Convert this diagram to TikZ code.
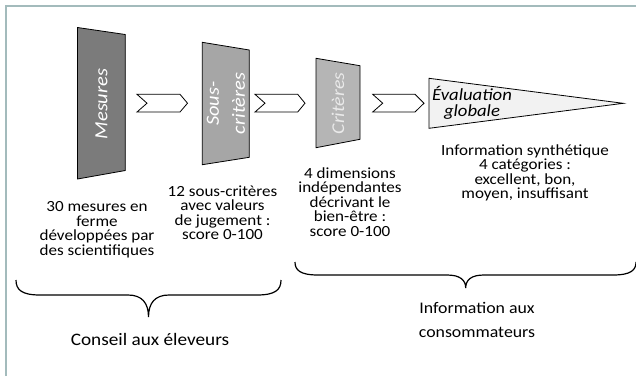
\documentclass[tikz,border=0pt]{standalone}
\usepackage{fontspec}
\setmainfont{Carlito}[FakeStretch=1.1]
\definecolor{framec}{HTML}{A3BBBC}
\definecolor{mesc}{HTML}{7B7B7B}
\definecolor{sousc}{HTML}{A6A6A6}
\definecolor{critc}{HTML}{B5B5B5}
\definecolor{evalc}{HTML}{F2F2F2}
\definecolor{crittext}{HTML}{EAEAEA}
\begin{document}
\begin{tikzpicture}[x=1pt,y=-1pt,
  body/.style={align=center,inner sep=0pt,font=\fontsize{15.5}{14.5}\selectfont},
  shapeline/.style={draw=black,line width=0.8pt},
  chev/.style={draw=black,line width=0.8pt,fill=white},
  bracel/.style={draw=black,line width=1.2pt},
  vert/.style={rotate=90,inner sep=0pt,align=center,font=\fontsize{18.6}{26}\selectfont\itshape}]
\useasboundingbox (0,0) rectangle (636,376);
\fill[white] (0,0) rectangle (636,376);
\draw[framec,line width=1.8pt] (6,376) -- (6,6) -- (636,6);
% trapezoids
\filldraw[shapeline,fill=mesc] (77.5,27.5) -- (125.3,34.5) -- (125.3,170.5) -- (77.5,179) -- cycle;
\filldraw[shapeline,fill=sousc] (202.3,42.3) -- (249.3,50) -- (249.3,157.3) -- (202.3,164.7) -- cycle;
\filldraw[shapeline,fill=critc] (316,58.3) -- (360,65.7) -- (360,139.3) -- (316,147.7) -- cycle;
\filldraw[shapeline,fill=evalc] (429,78.3) -- (623.3,103.3) -- (429,128.3) -- cycle;
\node[vert,text=white] (mes) at (101.5,104) {Mesures};
\node[vert,text=white] (sous) at (226,103.5) {Sous-\\critères};
\node[vert,text=crittext,font=\fontsize{18}{26}\selectfont\itshape] (crit) at (338,103.5) {Critères};
\node[align=center,inner sep=0pt,font=\fontsize{17}{15.5}\selectfont\itshape] (eval) at (472,103) {Évaluation\\globale};
% chevrons
\filldraw[chev] (137,94.3) -- (180,94.3) -- (187.5,103.2) -- (180,112) -- (137,112) -- (147,103.2) -- cycle;
\filldraw[chev] (255,94.3) -- (297.7,94.3) -- (305,103.2) -- (297.7,112) -- (255,112) -- (265,103.2) -- cycle;
\filldraw[chev] (372.7,94.3) -- (415,94.3) -- (424,103.2) -- (415,112) -- (372.7,112) -- (382.7,103.2) -- cycle;
% texts
\node[body] (t1) at (97,229.5) {30 mesures en\\ferme\\développées par\\des scientifiques};
\node[body] (t2) at (222.5,212.5) {12 sous-critères\\avec valeurs\\de jugement :\\score 0-100};
\node[body] (t3) at (350,202) {4 dimensions\\indépendantes\\décrivant le\\bien-être :\\score 0-100};
\node[body] (t4) at (525,173) {Information synthétique\\4 catégories :\\excellent, bon,\\moyen, insuffisant};
% braces
\draw[bracel] (16,280) .. controls (16,290) and (22,295) .. (40,295) -- (128,295)
  .. controls (142,295) and (148.5,303) .. (148.5,317)
  .. controls (148.5,303) and (155,295) .. (169,295) -- (257,295)
  .. controls (275,295) and (281,290) .. (281,280);
\draw[bracel] (295,262) .. controls (295,270) and (300,275) .. (318,275) -- (447,275)
  .. controls (460,275) and (465.7,280) .. (465.7,288)
  .. controls (465.7,280) and (471,275) .. (484,275) -- (613,275)
  .. controls (631,275) and (636,270) .. (636,262);
\node[body,font=\fontsize{17.5}{24}\selectfont] (cons) at (150,339) {Conseil aux éleveurs};
\node[body,font=\fontsize{16.2}{24}\selectfont] (info) at (477,320) {Information aux\\consommateurs};
\end{tikzpicture}
\end{document}
